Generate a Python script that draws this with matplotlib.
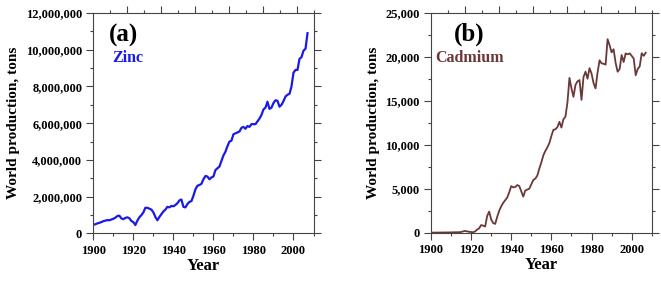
import numpy as np
import matplotlib
matplotlib.use("Agg")
import matplotlib.pyplot as plt
from matplotlib.ticker import MultipleLocator, StrMethodFormatter

plt.rcParams['font.family'] = ['Liberation Serif', 'DejaVu Serif']
plt.rcParams['font.weight'] = 'bold'

years = np.arange(1900, 2008)

# world zinc production, million tons
zinc = [0.48, 0.50, 0.55, 0.58, 0.62, 0.67, 0.70, 0.73, 0.72, 0.76,
        0.80, 0.86, 0.95, 0.97, 0.82, 0.78, 0.85, 0.88, 0.83, 0.68,
        0.62, 0.46, 0.70, 0.88, 1.00, 1.15, 1.40, 1.40, 1.35, 1.30,
        1.15, 0.90, 0.72, 0.90, 1.05, 1.20, 1.30, 1.45, 1.42, 1.50,
        1.48, 1.55, 1.65, 1.80, 1.85, 1.45, 1.42, 1.60, 1.72, 1.76,
        2.05, 2.40, 2.60, 2.64, 2.70, 2.95, 3.13, 3.10, 2.95, 3.05,
        3.10, 3.45, 3.55, 3.64, 3.95, 4.25, 4.45, 4.75, 5.00, 5.05,
        5.40, 5.45, 5.50, 5.55, 5.75, 5.80, 5.70, 5.85, 5.80, 5.95,
        5.95, 5.95, 6.10, 6.25, 6.45, 6.75, 6.85, 7.17, 6.78, 6.85,
        7.10, 7.25, 7.22, 6.90, 7.00, 7.20, 7.45, 7.55, 7.60, 8.00,
        8.75, 8.90, 8.90, 9.50, 9.60, 9.95, 10.05, 10.90]
zinc = np.array(zinc) * 1e6

# world cadmium production, tons
cadmium = [10, 10, 15, 15, 20, 20, 25, 25, 30, 30,
           40, 45, 50, 50, 60, 80, 150, 200, 150, 100,
           80, 50, 150, 350, 500, 870, 800, 700, 1900, 2400,
           1500, 1100, 1000, 1800, 2500, 3000, 3400, 3700, 4000, 4600,
           5300, 5150, 5200, 5420, 5300, 4700, 4100, 4800, 4900, 5000,
           5500, 6000, 6150, 6500, 7300, 8000, 8800, 9300, 9700, 10200,
           11000, 11700, 11750, 12000, 12600, 11950, 12900, 13200, 14800, 17600,
           16400, 15450, 16800, 17200, 17350, 15100, 17700, 18300, 17500, 18700,
           18100, 17000, 16400, 18200, 19600, 19250, 19200, 19100, 22000, 21300,
           20500, 20850, 19300, 18300, 18600, 20200, 19400, 20380, 20270, 20380,
           20100, 19800, 17900, 18600, 18900, 20400, 20100, 20450]

panels = [
    dict(pos=[0.1412, 0.172, 0.3331, 0.782], y=zinc, color='#1a1ae6', lw=1.6,
         ymax=12e6, major=2e6, minor=1e6, tag='(a)', name='Zinc',
         tag_xy=(0.07, 0.90), name_xy=(0.088, 0.796)),
    dict(pos=[0.652, 0.1748, 0.334, 0.780], y=cadmium, color='#6b3838', lw=1.3,
         ymax=25000, major=5000, minor=2500, tag='(b)', name='Cadmium',
         tag_xy=(0.105, 0.90), name_xy=(0.018, 0.796)),
]

fig = plt.figure(figsize=(6.61, 2.82), dpi=100)

for p in panels:
    ax = fig.add_axes(p['pos'])
    ax.plot(years, p['y'], color=p['color'], lw=p['lw'], solid_joinstyle='round')
    ax.set_xlim(1900, 2010)
    ax.set_ylim(0, p['ymax'])
    ax.xaxis.set_major_locator(MultipleLocator(20))
    ax.xaxis.set_minor_locator(MultipleLocator(10))
    ax.yaxis.set_major_locator(MultipleLocator(p['major']))
    ax.yaxis.set_minor_locator(MultipleLocator(p['minor']))
    ax.yaxis.set_major_formatter(StrMethodFormatter('{x:,.0f}'))
    ax.tick_params(which='both', direction='out', right=True, top=False,
                   labelsize=9, pad=3, color='#444444', width=0.8)
    ax.tick_params(which='major', length=5)
    ax.tick_params(which='minor', length=2.5)
    for lab in ax.get_xticklabels() + ax.get_yticklabels():
        lab.set_fontweight('bold')
    for s in ax.spines.values():
        s.set_linewidth(0.8)
        s.set_color('#444444')
    ax.set_xlabel('Year', fontsize=12, fontweight='bold', labelpad=1)
    ax.set_ylabel('World production, tons', fontsize=11, fontweight='bold', labelpad=4)

    # top axis ticks follow their own spacing
    top = ax.twiny()
    top.set_xlim(1900, 2010)
    tt = np.linspace(1900, 2010, 14)
    top.set_xticks(tt[2::2])
    top.set_xticks(tt[1::2], minor=True)
    top.tick_params(which='both', direction='out', labeltop=False, color='#444444', width=0.8)
    top.tick_params(which='major', length=5)
    top.tick_params(which='minor', length=2.5)
    for s in top.spines.values():
        s.set_visible(False)

    ax.text(p['tag_xy'][0], p['tag_xy'][1], p['tag'], transform=ax.transAxes,
            fontsize=18, fontweight='bold', va='center', ha='left')
    ax.text(p['name_xy'][0], p['name_xy'][1], p['name'], transform=ax.transAxes,
            fontsize=11.5, fontweight='bold', va='center', ha='left', color=p['color'])

fig.savefig('out.png', dpi=100)
